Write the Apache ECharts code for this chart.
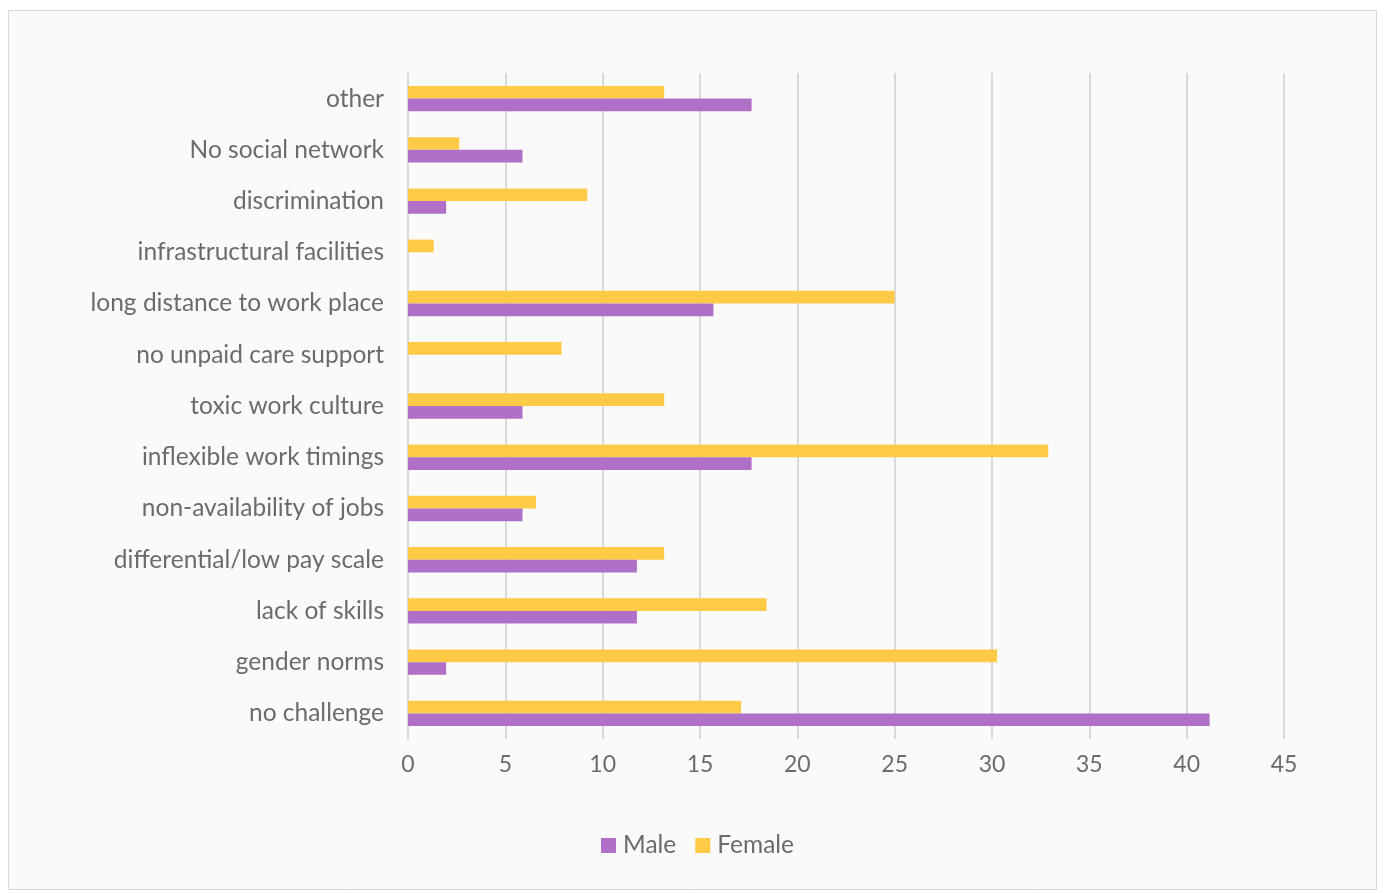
<!DOCTYPE html>
<html>
<head>
<meta charset="utf-8">
<title>Challenges by gender</title>
<script src="https://cdn.jsdelivr.net/npm/echarts@6/dist/echarts.min.js"></script>
<style>
  html, body { margin: 0; padding: 0; background: #ffffff; }
  #chart { width: 1384px; height: 893px; }
</style>
</head>
<body>
<div id="chart"></div>
<script>
// Categories listed bottom to top along the vertical axis
const categories = [
  'no challenge',
  'gender norms',
  'lack of skills',
  'differential/low pay scale',
  'non-availability of jobs',
  'inflexible work timings',
  'toxic work culture',
  'no unpaid care support',
  'long distance to work place',
  'infrastructural facilities',
  'discrimination',
  'No social network',
  'other'
];

// Share of respondents (%) per challenge
const maleValues = [41.18, 1.96, 11.76, 11.76, 5.88, 17.65, 5.88, 0, 15.69, 0, 1.96, 5.88, 17.65];
const femaleValues = [17.11, 30.26, 18.42, 13.16, 6.58, 32.89, 13.16, 7.89, 25.00, 1.32, 9.21, 2.63, 13.16];

const xTicks = { min: 0, max: 45, interval: 5 };

const textColor = '#6b6b6b';
const fontFamily = 'Lato, "Open Sans", sans-serif';

const chart = echarts.init(document.getElementById('chart'), null, { renderer: 'canvas' });

chart.setOption({
  backgroundColor: '#ffffff',
  textStyle: { fontFamily: fontFamily },
  graphic: [{
    type: 'rect',
    z: -10,
    shape: { x: 8.5, y: 10.5, width: 1368, height: 879 },
    style: { fill: '#fafafa', stroke: '#d9d9d9', lineWidth: 1 }
  }],
  grid: { left: 408, right: 100, top: 73, height: 666, containLabel: false },
  legend: {
    data: ['Male', 'Female'],
    left: 596,
    top: 828,
    icon: 'rect',
    itemWidth: 15,
    itemHeight: 15,
    itemGap: 19,
    textStyle: { color: textColor, fontSize: 24.5, fontFamily: fontFamily, padding: [0, 0, 0, 2] }
  },
  xAxis: {
    type: 'value',
    min: xTicks.min,
    max: xTicks.max,
    interval: xTicks.interval,
    axisLine: { show: false },
    axisTick: { show: false },
    axisLabel: { color: textColor, fontSize: 23, margin: 14, fontFamily: fontFamily },
    splitLine: { show: true, lineStyle: { color: '#d9d9d9', width: 2 } }
  },
  yAxis: {
    type: 'category',
    data: categories,
    axisLine: { show: true, lineStyle: { color: '#d9d9d9', width: 2 } },
    axisTick: { show: false },
    axisLabel: { color: textColor, fontSize: 24.5, margin: 24, fontFamily: fontFamily },
    splitLine: { show: false }
  },
  series: [
    {
      name: 'Female',
      type: 'bar',
      data: femaleValues,
      barWidth: 12.7,
      barGap: '0%',
      itemStyle: { color: '#ffca45' },
      animation: false
    },
    {
      name: 'Male',
      type: 'bar',
      data: maleValues,
      barWidth: 12.7,
      barGap: '0%',
      itemStyle: { color: '#b070c8' },
      animation: false
    }
  ]
});
</script>
</body>
</html>
